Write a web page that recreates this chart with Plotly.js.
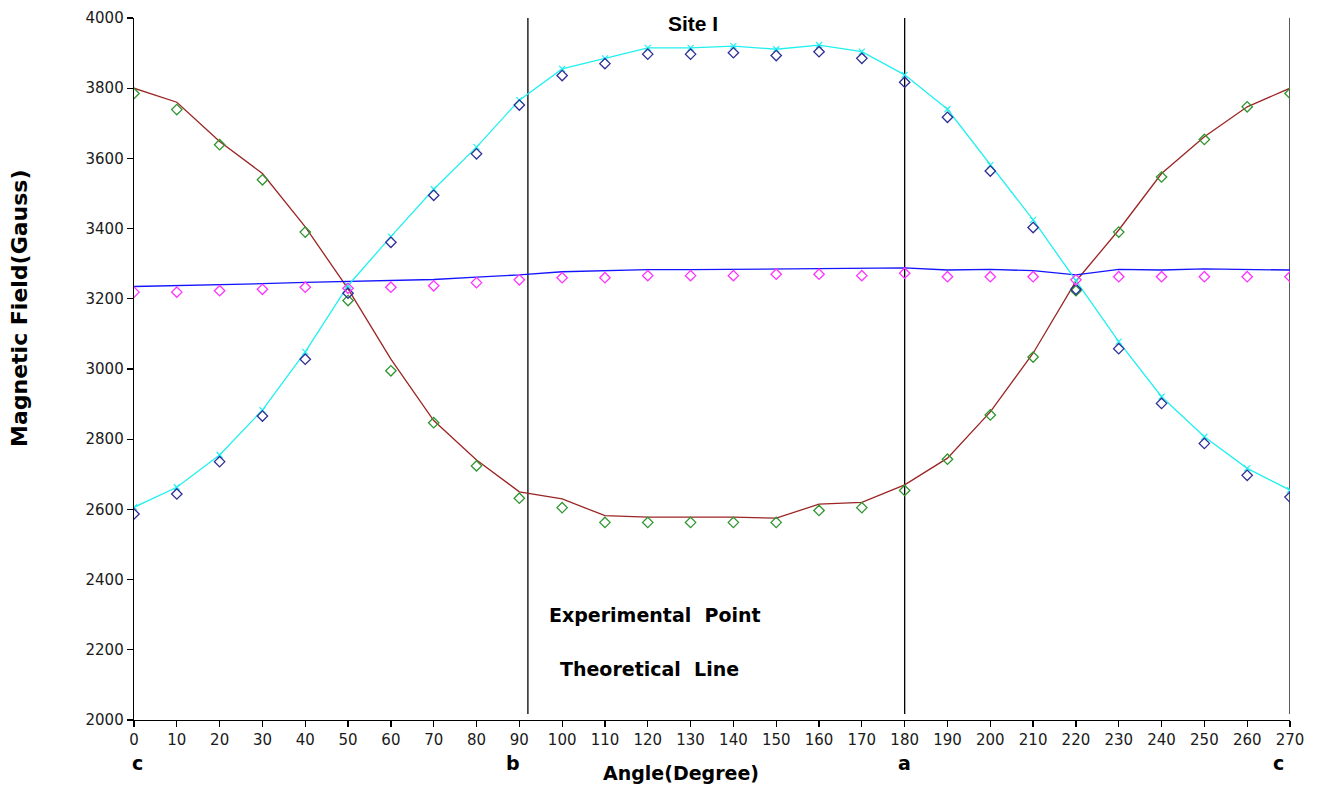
<!DOCTYPE html>
<html>
<head>
<meta charset="utf-8">
<script src="https://cdn.plot.ly/plotly-3.0.1.min.js"></script>
<style>html,body{margin:0;padding:0;background:#fff;}#chart{width:1326px;height:790px;}</style>
</head>
<body>
<div id="chart"></div>
<script>
// Angles (degrees)
const angles = [0,10,20,30,40,50,60,70,80,90,100,110,120,130,140,150,160,170,180,190,200,210,220,230,240,250,260,270];

// Experimental points (green) and theoretical line (brown)
const expGreen = [3785,3739,3639,3539,3390,3195,2995,2847,2724,2632,2605,2563,2563,2563,2563,2563,2597,2605,2654,2743,2869,3034,3223,3390,3547,3654,3747,3785];
const theoBrown = [3800,3760,3648,3557,3405,3228,3028,2853,2741,2650,2630,2582,2578,2578,2578,2575,2615,2620,2670,2746,2878,3045,3250,3396,3557,3662,3747,3800];

// Experimental points (dark blue) and theoretical line (cyan)
const expNavy = [2587,2644,2736,2866,3028,3216,3361,3495,3613,3752,3836,3870,3897,3897,3901,3893,3904,3885,3817,3717,3564,3403,3227,3058,2902,2788,2697,2635];
const theoCyan = [2606,2663,2755,2883,3049,3238,3377,3512,3632,3766,3855,3885,3915,3915,3920,3911,3923,3904,3838,3740,3581,3425,3252,3078,2921,2807,2717,2655];

// Experimental points (magenta) and theoretical line (blue)
const expMagenta = [3219,3219,3223,3227,3233,3230,3233,3237,3246,3254,3260,3260,3266,3266,3266,3270,3270,3266,3273,3263,3263,3263,3254,3263,3263,3263,3263,3263];
const theoBlue = [3235,3237,3240,3243,3247,3249,3251,3255,3262,3268,3277,3280,3283,3283,3284,3286,3286,3288,3288,3282,3284,3280,3268,3284,3282,3285,3283,3282];

// Crystal axis markers
const axisAngles = [92,180,270];
const axisLabelAngles = [0.7,88.5,180,267.3];
const axisLabels = ['c','b','a','c'];

const lineTrace = (y, color, extra) => Object.assign({
  x: angles, y: y, type: 'scatter', mode: 'lines',
  line: {color: color, width: 1.3}, hoverinfo: 'x+y'
}, extra || {});
const pointTrace = (y, color) => ({
  x: angles, y: y, type: 'scatter', mode: 'markers',
  marker: {symbol: 'diamond-open', size: 8, color: color, line: {color: color, width: 1.3}}
});

const traces = [
  lineTrace(theoBrown, '#9b2525'),
  lineTrace(theoBlue, '#1414ff'),
  lineTrace(theoCyan, '#22f0f0', {mode: 'lines+markers', marker: {symbol: 'x-thin-open', size: 6, color: '#22f0f0', line: {color: '#22f0f0', width: 1.2}}}),
  pointTrace(expGreen, '#2f962f'),
  pointTrace(expNavy, '#2e2e96'),
  pointTrace(expMagenta, '#ff33ff')
];

const shapes = axisAngles.map(a => ({
  type: 'line', xref: 'x', yref: 'y', x0: a, x1: a, y0: 2017, y1: 4000,
  line: {color: '#000', width: 1.3}, layer: 'below'
}));

const boldFont = (s) => ({family: 'DejaVu Sans, Arial, sans-serif', size: s, color: '#000', weight: 'bold'});

const annotations = [
  {text: '<b>Site I</b>', xref: 'paper', yref: 'paper', x: 0.4836, y: 0.9915, showarrow: false, xanchor: 'center', yanchor: 'middle', font: {family: 'Liberation Sans, Arial, sans-serif', size: 21, color: '#000'}},
  {text: '<b>Experimental&nbsp; Point</b>', xref: 'paper', yref: 'paper', x: 0.4507, y: 0.1496, showarrow: false, xanchor: 'center', yanchor: 'middle', font: boldFont(19)},
  {text: '<b>Theoretical&nbsp; Line</b>', xref: 'paper', yref: 'paper', x: 0.446, y: 0.0726, showarrow: false, xanchor: 'center', yanchor: 'middle', font: boldFont(19)},
  {text: '<b>Angle(Degree)</b>', xref: 'paper', yref: 'paper', x: 0.473, y: -0.0755, showarrow: false, xanchor: 'center', yanchor: 'middle', font: boldFont(19)},
  {text: '<b>Magnetic Field(Gauss)</b>', xref: 'paper', yref: 'paper', x: -0.0986, y: 0.5855, showarrow: false, xanchor: 'center', yanchor: 'middle', textangle: -90, font: boldFont(22)}
].concat(axisLabels.map((t, i) => ({
  text: '<b>' + t + '</b>', xref: 'x', yref: 'paper', x: axisLabelAngles[i], y: -0.0613,
  showarrow: false, xanchor: 'center', yanchor: 'middle', font: boldFont(19)
})));

const tickFont = {family: 'DejaVu Sans, sans-serif', size: 15, color: '#1a1a1a'};

const layout = {
  width: 1326, height: 790,
  margin: {l: 134, r: 36, t: 18, b: 70, pad: 0},
  paper_bgcolor: '#fff', plot_bgcolor: '#fff',
  showlegend: false,
  xaxis: {
    range: [0, 270], tick0: 0, dtick: 10, showgrid: false, zeroline: false,
    showline: true, linecolor: '#000', linewidth: 1.3, ticks: 'outside', ticklen: 6, tickwidth: 1.3, tickcolor: '#000',
    tickfont: tickFont, fixedrange: true
  },
  yaxis: {
    range: [2000, 4000], tick0: 2000, dtick: 200, showgrid: false, zeroline: false,
    showline: true, linecolor: '#000', linewidth: 1.3, ticks: 'outside', ticklen: 6, tickwidth: 1.3, tickcolor: '#000',
    tickfont: tickFont, fixedrange: true
  },
  shapes: shapes,
  annotations: annotations
};

Plotly.newPlot('chart', traces, layout, {displayModeBar: false, staticPlot: true});
</script>
</body>
</html>
